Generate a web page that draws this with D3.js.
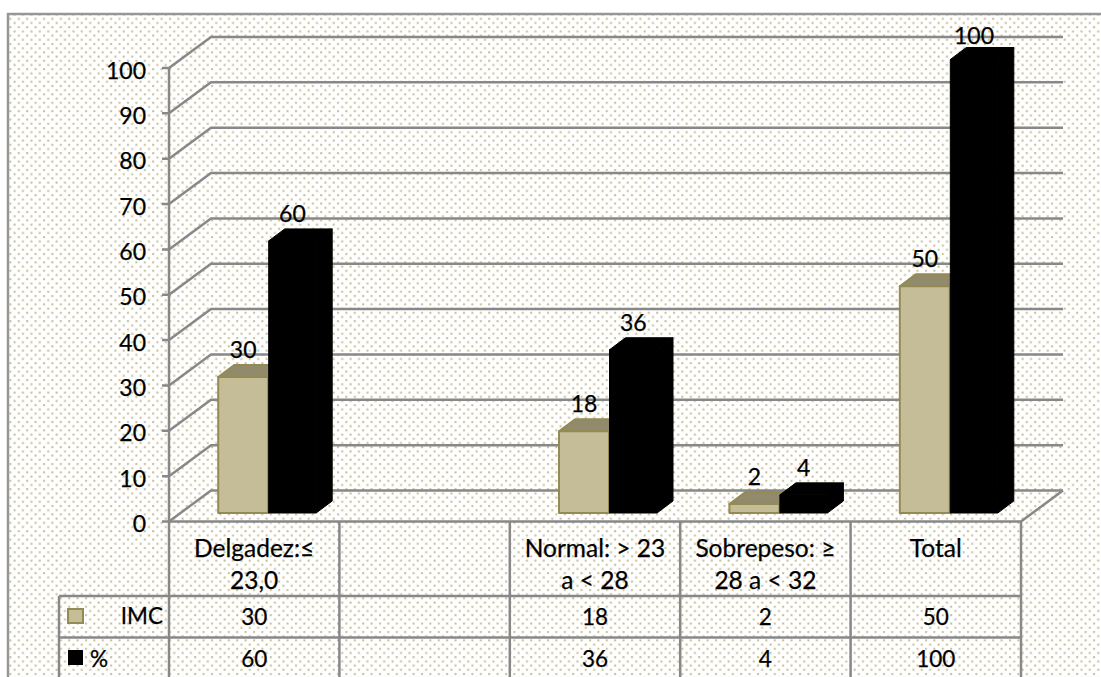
<!DOCTYPE html>
<html>
<head>
<meta charset="utf-8">
<script src="https://cdn.jsdelivr.net/npm/d3@7"></script>
<style>
  html, body { margin: 0; padding: 0; background: #fff; overflow: hidden; }
  svg { display: block; }
  text { font-family: Lato, "Open Sans", sans-serif; font-size: 23px; fill: #000; stroke: #000; stroke-width: 0.25px; }
  .tbl text { font-size: 24.5px; }
  .tbl text.num { font-size: 22.5px; }
</style>
</head>
<body>
<script>
// categories and series
var categories = ["Delgadez", "", "Normal", "Sobrepeso", "Total"];
var categoryLines = [["Delgadez:≤", "23,0"], [], ["Normal: > 23", "a < 28"], ["Sobrepeso: ≥", "28 a < 32"], ["Total"]];
var imc = [30, null, 18, 2, 50];
var pct = [60, null, 36, 4, 100];
var yTicks = [0, 10, 20, 30, 40, 50, 60, 70, 80, 90, 100];

var w = 1101, h = 677;
var gridColor = "#888888";

var svg = d3.select("body").append("svg")
    .attr("width", w)
    .attr("height", h);

var pat = svg.append("defs").append("pattern")
    .attr("id", "dots")
    .attr("patternUnits", "userSpaceOnUse")
    .attr("width", 8.4)
    .attr("height", 8.4);
pat.append("rect").attr("x", 1).attr("y", 1).attr("width", 2).attr("height", 2).attr("fill", "#c4bd97");
pat.append("rect").attr("x", 5.2).attr("y", 5.2).attr("width", 2).attr("height", 2).attr("fill", "#c4bd97");

// chart background, frame is only closed on top and left
svg.append("rect").attr("x", 8).attr("y", 14).attr("width", w - 8).attr("height", h - 14).attr("fill", "url(#dots)");
svg.append("path").attr("d", "M8,677V14H1101").attr("fill", "none").attr("stroke", "#969696").attr("stroke-width", 2.5);

var x = d3.scaleBand().domain(d3.range(categories.length)).range([169, 1021]);
var y = d3.scaleLinear().domain([0, 100]).range([521.5, 68]);

// 3d offsets
var wallDx = 42, wallDy = -31, barDx = 14, barDy = -8.5, depthDx = 16, depthDy = -12;

// gridlines: tick on axis, diagonal to the back wall, then along the wall
svg.append("g").selectAll("path")
    .data(yTicks)
    .enter().append("path")
    .attr("fill", "none")
    .attr("stroke", gridColor)
    .attr("stroke-width", 2.5)
    .attr("d", function(d) {
        return "M162," + y(d) + "H169l" + wallDx + "," + wallDy + "H" + (x.range()[1] + wallDx);
    });

svg.append("path")
    .attr("d", "M169," + y(100) + "V" + y(0) + "H" + x.range()[1] + "l" + wallDx + "," + wallDy)
    .attr("fill", "none")
    .attr("stroke", gridColor)
    .attr("stroke-width", 2.5);

svg.append("g").selectAll("text")
    .data(yTicks)
    .enter().append("text")
    .attr("x", 146)
    .attr("y", function(d) { return y(d) + 10.5; })
    .attr("text-anchor", "end")
    .text(function(d) { return d; });

function bar(g, px, bw, val, front, top, stroke, sw) {
    var x0 = px, x1 = px + bw;
    var y0 = y(0) + barDy, y1 = y(val) + barDy;
    var pts = [
        [[x0, y1], [x1, y1], [x1 + depthDx, y1 + depthDy], [x0 + depthDx, y1 + depthDy], top],
        [[x1, y1], [x1 + depthDx, y1 + depthDy], [x1 + depthDx, y0 + depthDy], [x1, y0], top],
        [[x0, y0], [x0, y1], [x1, y1], [x1, y0], front]
    ];
    pts.forEach(function(p) {
        g.append("polygon")
            .attr("points", p.slice(0, 4).join(" "))
            .attr("fill", p[4])
            .attr("stroke", stroke)
            .attr("stroke-width", sw)
            .attr("stroke-linejoin", "round");
    });
    g.append("text")
        .attr("x", (x0 + x1) / 2)
        .attr("y", Math.max(44, y1 + depthDy - 7))  // label stays inside the plot at the top
        .attr("text-anchor", "middle")
        .text(val);
}

var bars = svg.append("g");
categories.forEach(function(c, i) {
    if (imc[i] === null) return;
    var mid = x(i) + x.bandwidth() / 2 + barDx;
    bar(bars, mid - 50, 50, imc[i], "#c4bd97", "#918b6b", "#948a54", 2);
    bar(bars, mid + 0.5, 47.5, pct[i], "#000", "#000", "#000", 1);
});

// data table under the axis
var tbl = svg.append("g").attr("class", "tbl");
var rowTop = 522, row1 = 596, row2 = 637.5, tblBottom = 678, tblLeft = 59;

function line(x1, y1, x2, y2) {
    tbl.append("line")
        .attr("x1", x1).attr("y1", y1)
        .attr("x2", x2).attr("y2", y2)
        .attr("stroke", gridColor)
        .attr("stroke-width", 2.5);
}

[row1, row2].forEach(function(r) { line(tblLeft, r, x.range()[1], r); });
line(tblLeft, row1, tblLeft, tblBottom);
d3.range(categories.length + 1).forEach(function(i) {
    var px = i < categories.length ? x(i) : x.range()[1];
    line(px, rowTop, px, tblBottom);
});

categories.forEach(function(c, i) {
    var cx = x(i) + x.bandwidth() / 2;
    tbl.append("g").selectAll("text")
        .data(categoryLines[i])
        .enter().append("text")
        .attr("x", cx)
        .attr("y", function(d, k) { return 557 + k * 32; })
        .attr("text-anchor", "middle")
        .text(function(d) { return d; });
    if (imc[i] !== null) {
        tbl.append("text").attr("class", "num").attr("x", cx).attr("y", 625).attr("text-anchor", "middle").text(imc[i]);
        tbl.append("text").attr("class", "num").attr("x", cx).attr("y", 667).attr("text-anchor", "middle").text(pct[i]);
    }
});

// legend keys in the table
tbl.append("rect").attr("x", 68).attr("y", 609).attr("width", 15).attr("height", 14)
    .attr("fill", "#c4bd97").attr("stroke", "#948a54").attr("stroke-width", 2);
tbl.append("text").attr("class", "num").attr("x", 163).attr("y", 624).attr("text-anchor", "end").text("IMC");
tbl.append("rect").attr("x", 68).attr("y", 650).attr("width", 15).attr("height", 15).attr("fill", "#000");
tbl.append("text").attr("class", "num").attr("x", 90).attr("y", 667).text("%");
</script>
</body>
</html>
